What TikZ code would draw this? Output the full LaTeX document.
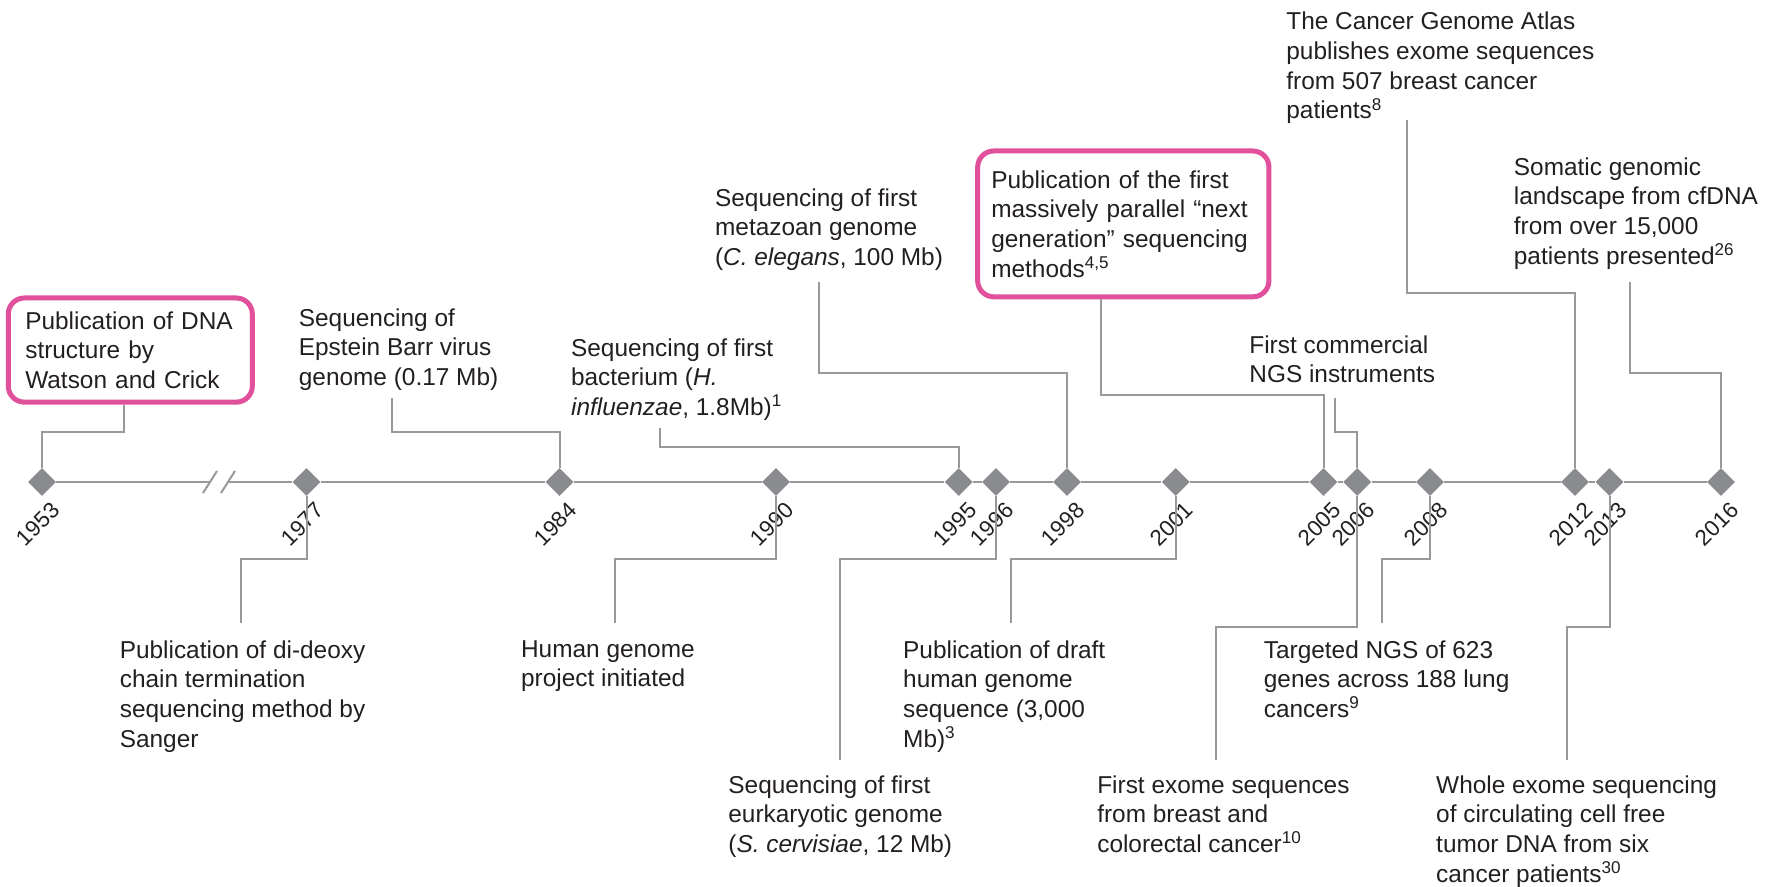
\documentclass[tikz,border=0pt]{standalone}
\usepackage{fontspec}
\setmainfont{Liberation Sans}
\usetikzlibrary{positioning}
\usetikzlibrary{calc}
\usetikzlibrary{shapes.geometric}

\definecolor{tlgray}{RGB}{152,153,156}
\definecolor{gemgray}{RGB}{138,139,143}
\definecolor{hilite}{RGB}{224,80,155}
\definecolor{ink}{RGB}{35,31,32}

\begin{document}
\begin{tikzpicture}[x=0.5pt,y=-0.5pt,font=\fontsize{12.2}{14.85}\selectfont,text=ink]
\tikzstyle{gem}=[diamond,fill=gemgray,inner sep=0pt,minimum width=14pt,minimum height=14pt]
\tikzstyle{yearlbl}=[rotate=45,anchor=north east,inner sep=0pt,font=\fontsize{11.2}{13}\selectfont]
\tikzstyle{event}=[align=left,anchor=north west,inner sep=0pt]
\tikzstyle{keybox}=[event,draw=hilite,line width=2.5pt,rounded corners=8pt]
\tikzstyle{axis}=[tlgray,line width=1pt]
\tikzstyle{lead}=[tlgray,line width=1pt]

\useasboundingbox (0,0) rectangle (1777,887);

% diamonds with their years
\foreach \yr/\xx in {1953/42,1977/306.5,1984/559.5,1990/776,1995/958.8,1996/996,1998/1067,2001/1175.7,2005/1323.5,2006/1357.3,2008/1430,2012/1575,2013/1609.5,2016/1721}{
  \node[gem] (d\yr) at (\xx,482) {};
  \node[yearlbl] (y\yr) at ($(d\yr.south)+(8,4)$) {\yr};
}

% time axis with the break
\coordinate (brkL) at (210,482);
\coordinate (brkR) at (228,482);
\draw[axis] (d1953) -- (brkL);
\draw[axis] (brkR) -- (d1977);
\draw[axis] ($(brkL)+(-7,11)$) -- ($(brkL)+(7,-11)$);
\draw[axis] ($(brkR)+(-7,11)$) -- ($(brkR)+(7,-11)$);
\foreach \a/\b in {1977/1984,1984/1990,1990/1995,1995/1996,1996/1998,1998/2001,2001/2005,2005/2006,2006/2008,2008/2012,2012/2013,2013/2016}
  \draw[axis] (d\a) -- (d\b);

% events above the axis
\node[keybox,text width=105pt,inner xsep=8.5pt,inner ysep=6.7pt] (dna) at (5.8,295.5) {Publication of DNA\\structure by\\Watson and Crick};
\node[event] (epstein) at (298.5,308) {Sequencing of\\Epstein Barr virus\\genome (0.17 Mb)};
\node[event] (hinflu) at (570.7,338) {Sequencing of first\\bacterium (\textit{H.}\\\textit{influenzae}, 1.8Mb)\textsuperscript{1}};
\node[event] (celegans) at (714.7,188) {Sequencing of first\\metazoan genome\\(\textit{C. elegans}, 100 Mb)};
\node[keybox,text width=132pt,inner xsep=6.8pt,inner ysep=9.7pt] (ngsbox) at (975.2,148.5) {Publication of the first\\massively parallel “next\\generation” sequencing\\methods\textsuperscript{4,5}};
\node[event] (ngsinst) at (1249,335) {First commercial\\NGS instruments};
\node[event] (tcga) at (1286,11.7) {The Cancer Genome Atlas\\publishes exome sequences\\from 507 breast cancer\\patients\textsuperscript{8}};
\node[event] (cfdna) at (1513.5,157) {Somatic genomic\\landscape from cfDNA\\from over 15,000\\patients presented\textsuperscript{26}};

% events below the axis
\node[event] (sanger) at (119.4,640) {Publication of di-deoxy\\chain termination\\sequencing method by\\Sanger};
\node[event] (hgp) at (520.7,640) {Human genome\\project initiated};
\node[event] (yeast) at (728,775) {Sequencing of first\\eurkaryotic genome\\(\textit{S. cervisiae}, 12 Mb)};
\node[event] (draft) at (902.8,640) {Publication of draft\\human genome\\sequence (3,000\\Mb)\textsuperscript{3}};
\node[event] (exome) at (1096.9,775) {First exome sequences\\from breast and\\colorectal cancer\textsuperscript{10}};
\node[event] (lung) at (1263.5,640) {Targeted NGS of 623\\genes across 188 lung\\cancers\textsuperscript{9}};
\node[event] (ctdna) at (1435.8,775) {Whole exome sequencing\\of circulating cell free\\tumor DNA from six\\cancer patients\textsuperscript{30}};

% leader lines
\draw[lead] ($(dna.south west)+(118.6,0)$) |- ($(d1953)+(0,-50.3)$) -- (d1953);
\draw[lead] ($(epstein.north west)+(93.8,90)$) |- ($(d1984)+(0,-50.3)$) -- (d1984);
\draw[lead] ($(hinflu.north west)+(89.2,90)$) |- ($(d1995)+(0,-35.3)$) -- (d1995);
\draw[lead] ($(celegans.north west)+(104,94)$) |- ($(d1998)+(0,-109.3)$) -- (d1998);
\draw[lead] ($(ngsbox.south west)+(126.2,0)$) |- ($(d2005)+(0,-87)$) -- (d2005);
\draw[lead] ($(ngsinst.north west)+(85.8,63)$) |- ($(d2006)+(0,-50.3)$) -- (d2006);
\draw[lead] ($(tcga.north west)+(121,108.3)$) |- ($(d2012)+(0,-189.3)$) -- (d2012);
\draw[lead] ($(cfdna.north west)+(116.5,125)$) |- ($(d2016)+(0,-109.3)$) -- (d2016);

\draw[lead] (d1977) -- ($(d1977)+(0,77.3)$) -| ($(sanger.north west)+(121.6,-17)$);
\draw[lead] (d1990) -- ($(d1990)+(0,77.3)$) -| ($(hgp.north west)+(94.7,-17)$);
\draw[lead] (d1996) -- ($(d1996)+(0,77.3)$) -| ($(yeast.north west)+(111.8,-15)$);
\draw[lead] (d2001) -- ($(d2001)+(0,77.3)$) -| ($(draft.north west)+(107.9,-17)$);
\draw[lead] (d2006) -- ($(d2006)+(0,145)$) -| ($(exome.north west)+(119.1,-15)$);
\draw[lead] (d2008) -- ($(d2008)+(0,77.3)$) -| ($(lung.north west)+(118.5,-17)$);
\draw[lead] (d2013) -- ($(d2013)+(0,145)$) -| ($(ctdna.north west)+(130.9,-15)$);
\end{tikzpicture}
\end{document}
